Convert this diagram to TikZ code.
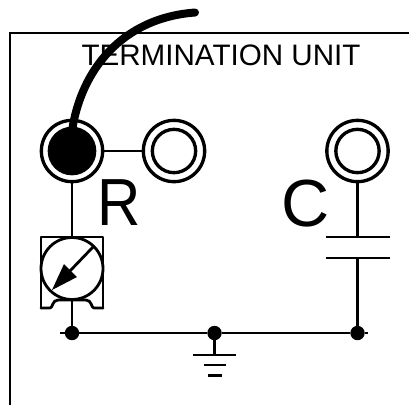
\documentclass[tikz,border=0pt]{standalone}
\usepackage{fontspec}
\setmainfont{Liberation Sans}
\usetikzlibrary{calc}
\tikzset{
  x=0.75pt,y=-0.75pt,
  wire/.style={line width=2.1pt,line cap=butt},
  outer ring/.style={circle,draw,line width=2.5pt,minimum size=46pt,inner sep=0pt,outer sep=0pt},
  inner ring/.style={circle,draw,line width=2.5pt,minimum size=32.5pt,inner sep=0pt,outer sep=0pt},
  inner fill/.style={circle,fill=black,minimum size=36.5pt,inner sep=0pt,outer sep=0pt},
  junction/.style={circle,fill=black,minimum size=10.8pt,inner sep=0pt,outer sep=0pt},
  lbl/.style={inner sep=0pt,outer sep=0pt,anchor=base},
  potline/.style={line width=2.1pt,line join=round,line cap=round},
}
\begin{document}
\begin{tikzpicture}
\useasboundingbox (0,0) rectangle (409,405);
\fill[white] (0,0) rectangle (409,405);
% frame
\draw[line width=1.9pt] (10,405) -- (10,33) -- (409,33);
% text
\node[lbl,font=\fontsize{22.2pt}{24pt}\selectfont] (title) at (221,65) {TERMINATION UNIT};
\node[lbl,xscale=0.9,font=\fontsize{50pt}{54pt}\selectfont] (r) at (119,225) {R};
\node[lbl,font=\fontsize{50pt}{54pt}\selectfont] (c) at (306,226) {C};
% terminals
\node[outer ring] (t1) at (72,151) {};
\node[inner fill] (t1i) at (72,151) {};
\node[outer ring] (t2) at (174,151) {};
\node[inner ring] (t2i) at (174,151) {};
\node[outer ring] (t3) at (357.5,151) {};
\node[inner ring] (t3i) at (357.5,151) {};
% junctions
\node[junction] (j1) at (72,333) {};
\node[junction] (j2) at (214.5,333) {};
\node[junction] (j3) at (357.5,333) {};
\coordinate (busl) at (60,333);
\coordinate (busr) at (368,333);
\draw[wire] (busl) -- (j1) -- (j2) -- (j3) -- (busr);
\draw[wire] (t1) -- (t2);
% variable resistor
\node[circle,draw,line width=2.1pt,minimum size=46.5pt,inner sep=0pt,outer sep=0pt] (pot) at (72,268.5) {};
\draw[potline] (41,308) -- (41,237) -- (103,237) -- (103,308);
\draw[potline] (41,308) -- (50,308) .. controls (53,308) and (52,300) .. (58,300) -- (86,300) .. controls (92,300) and (91,308) .. (94,308) -- (103,308);
\draw[wire] (t1) -- (72,237);
\draw[wire] (72,300) -- (j1);
\coordinate (ptail) at (93,247);
\coordinate (ptip) at (52,290);
\draw[wire] (ptail) -- (68,273);
\fill (ptip) -- (64,264) -- (77,277) -- cycle;
% capacitor
\coordinate (cp1) at (357.5,237);
\coordinate (cp2) at (357.5,258);
\draw[wire] (t3) -- (cp1);
\draw[wire] (cp2) -- (j3);
\draw[wire] (326,237) -- (390,237);
\draw[wire] (326,258) -- (390,258);
% ground
\coordinate (g1) at (214.5,355);
\coordinate (g2) at (214.5,365);
\coordinate (g3) at (214.5,375.5);
\draw[wire] (j2) -- (g1);
\draw[wire] ($(g1)+(-21.5,0)$) -- ($(g1)+(21.5,0)$);
\draw[wire] ($(g2)+(-11,0)$) -- ($(g2)+(11,0)$);
\draw[wire] ($(g3)+(-7,0)$) -- ($(g3)+(7,0)$);
% cable
\coordinate (cabend) at (195,12.5);
\draw[line width=6pt,line cap=round] (t1i.center) ++(0,-20) .. controls (81,70) and (122,18) .. (cabend);
\end{tikzpicture}
\end{document}
